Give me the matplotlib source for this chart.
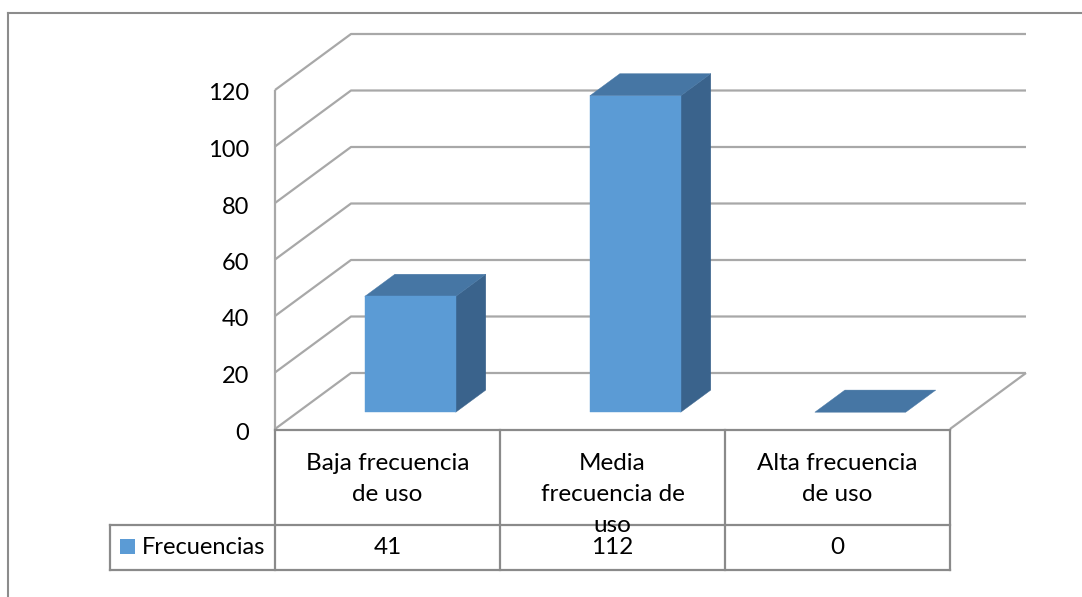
import numpy as np
import matplotlib.pyplot as plt
from matplotlib.patches import Polygon
from matplotlib.lines import Line2D
import matplotlib.transforms as mtransforms

plt.rcParams['font.family'] = ['Lato', 'DejaVu Sans']

# data
categorias = ['Baja frecuencia\nde uso', 'Media\nfrecuencia de\nuso', 'Alta frecuencia\nde uso']
frecuencias = [41, 112, 0]
serie = 'Frecuencias'
yticks = [0, 20, 40, 60, 80, 100, 120]

# colours
c_front = '#5b9bd5'
c_side = '#3a638c'
c_top = '#4676a4'
c_grid = '#a8a8a8'
c_table = '#8a8a8a'

W, H = 1082, 597
fig = plt.figure(figsize=(W / 100, H / 100), dpi=100)

# front plane of the 3d box: x 275..950 px, y 429..90 px
ax = fig.add_axes([275 / W, 1 - 429 / H, 675 / W, 339 / H])
ax.set_xlim(0, 3)
ax.set_ylim(0, 120)
ax.axis('off')

DX = 76 / 225          # depth shift in category units
DY = 56 / (339 / 120)  # depth shift in value units


def proj(x, y, d):
    return x + d * DX, y + d * DY


def line3d(pts, **kw):
    xs, ys = zip(*[proj(*p) for p in pts])
    ax.add_line(Line2D(xs, ys, clip_on=False, solid_capstyle='butt', **kw))


def poly3d(pts, color, z):
    ax.add_patch(Polygon([proj(*p) for p in pts], closed=True, facecolor=color,
                         edgecolor=color, lw=0.3, clip_on=False, zorder=z))


# walls and gridlines
for v in yticks:
    line3d([(0, v, 0), (0, v, 1), (3, v, 1)], color=c_grid, lw=1.6, zorder=1)
line3d([(0, 0, 0), (0, 120, 0)], color=c_grid, lw=1.6, zorder=1)
line3d([(3, 0, 1), (3, 0, 0)], color=c_grid, lw=1.6, zorder=1)

# tick labels
off = mtransforms.offset_copy(ax.transData, fig=fig, x=-26, y=-4, units='dots')
for v in yticks:
    ax.text(0, v, str(v), transform=off, ha='right', va='center', fontsize=17, color='black')

# bars
bw = 0.404
d0, d1 = 0.30, 0.695
for i, val in enumerate(frecuencias):
    x0 = i + 0.5 - bw / 2
    x1 = x0 + bw
    if val > 0:
        poly3d([(x1, 0, d0), (x1, 0, d1), (x1, val, d1), (x1, val, d0)], c_side, 3)
        poly3d([(x0, 0, d0), (x1, 0, d0), (x1, val, d0), (x0, val, d0)], c_front, 4)
    poly3d([(x0, val, d0), (x1, val, d0), (x1, val, d1), (x0, val, d1)], c_top, 3)

# data table
tab = fig.add_axes([110 / W, 1 - 570 / H, 840 / W, 140 / H])
xl = -165 / 225
tab.set_xlim(xl, 3)
tab.set_ylim(1, 0)
tab.axis('off')
split = 95 / 140

kw = dict(color=c_table, lw=1.6, clip_on=False, solid_capstyle='projecting')
tab.plot([0, 3], [0, 0], **kw)
for x in range(4):
    tab.plot([x, x], [0, 1], **kw)
tab.plot([xl, 3], [split, split], **kw)
tab.plot([xl, 3], [1, 1], **kw)
tab.plot([xl, xl], [split, 1], **kw)

for i, (cat, val) in enumerate(zip(categorias, frecuencias)):
    tab.text(i + 0.5, 23 / 140, cat, ha='center', va='top', fontsize=17.5,
             linespacing=1.6, color='black')
    tab.text(i + 0.5, 117 / 140, str(val), ha='center', va='center', fontsize=17.5, color='black')

# legend key in the row header
tab.add_patch(plt.Rectangle((xl + 10 / 225, 109 / 140), 15 / 225, 15 / 140,
                            facecolor=c_front, edgecolor='none', clip_on=False))
tab.text(xl + 32 / 225, 117 / 140, serie, ha='left', va='center', fontsize=17, color='black')

# chart area border
fig.add_artist(Line2D([8 / W, 1], [1 - 13 / H, 1 - 13 / H], transform=fig.transFigure,
                      color='#8c8c8c', lw=1.5))
fig.add_artist(Line2D([8 / W, 8 / W], [1 - 13 / H, 0], transform=fig.transFigure,
                      color='#8c8c8c', lw=1.5))

fig.savefig('out.png', dpi=100, facecolor='white')
